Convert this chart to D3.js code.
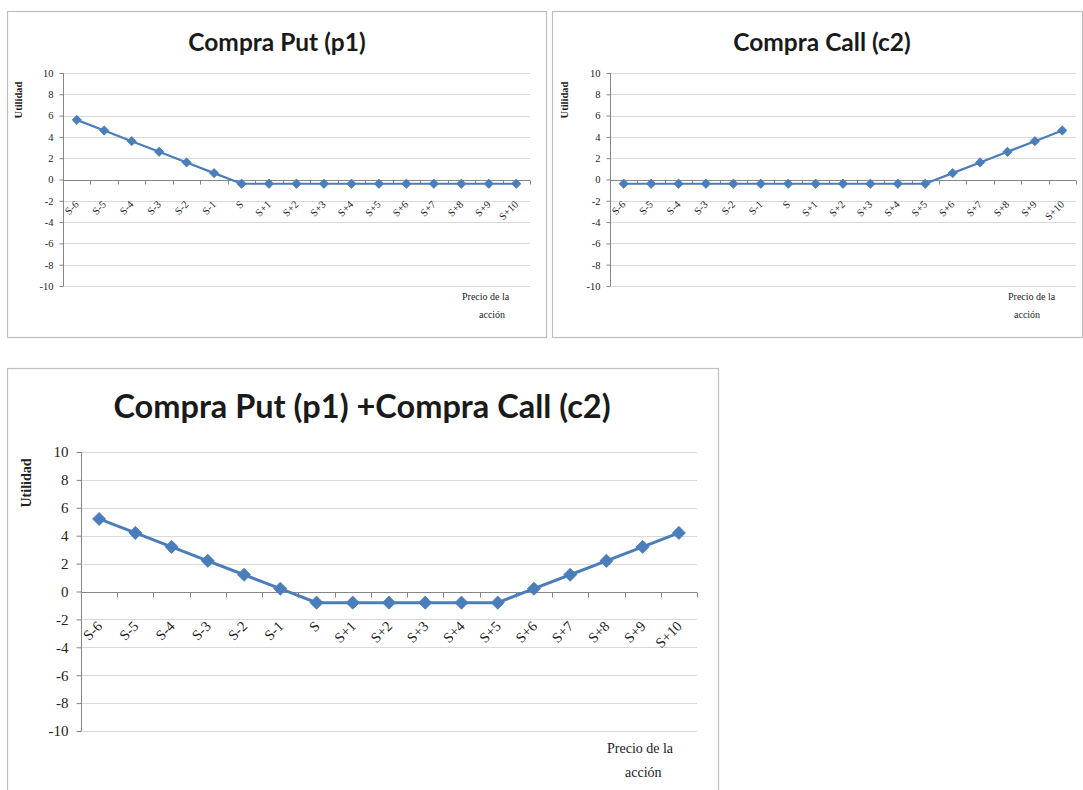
<!DOCTYPE html>
<html><head><meta charset="utf-8">
<script src="https://cdn.jsdelivr.net/npm/d3@7"></script>
<style>body{margin:0;background:#fff;}svg{display:block;}</style>
</head><body>
<svg id="chart" width="1083" height="790"></svg>
<script>
const categories = ["S-6","S-5","S-4","S-3","S-2","S-1","S","S+1","S+2","S+3","S+4","S+5","S+6","S+7","S+8","S+9","S+10"];
const putValues  = [5.6,4.6,3.6,2.6,1.6,0.6,-0.4,-0.4,-0.4,-0.4,-0.4,-0.4,-0.4,-0.4,-0.4,-0.4,-0.4];
const callValues = [-0.4,-0.4,-0.4,-0.4,-0.4,-0.4,-0.4,-0.4,-0.4,-0.4,-0.4,-0.4,0.6,1.6,2.6,3.6,4.6];
const comboValues = [5.2,4.2,3.2,2.2,1.2,0.2,-0.8,-0.8,-0.8,-0.8,-0.8,-0.8,0.2,1.2,2.2,3.2,4.2];
const yTicks = [10,8,6,4,2,0,-2,-4,-6,-8,-10];
const titles = ["Compra Put (p1)","Compra Call (c2)","Compra Put (p1) +Compra Call (c2)"];
const yTitle = "Utilidad";
const xTitle = ["Precio de la","acción"];

const svg = d3.select("#chart");
const BLUE = "#4A7EBB";

function panel(cfg, values, title) {
  const g = svg.append("g");
  g.append("rect").attr("x", cfg.box[0]+0.5).attr("y", cfg.box[1]+0.5)
    .attr("width", cfg.box[2]).attr("height", cfg.box[3])
    .attr("fill", "#fff").attr("stroke", "#bfbfbf").attr("stroke-width", 1.2);

  const x = d3.scaleBand().domain(categories).range([cfg.left, cfg.right]).padding(0);
  const y = d3.scaleLinear().domain([-10, 10]).range([cfg.bottom, cfg.top]);

  g.append("g").selectAll("line").data(yTicks).join("line")
    .attr("x1", cfg.left).attr("x2", cfg.right)
    .attr("y1", d => Math.round(y(d))+0.5).attr("y2", d => Math.round(y(d))+0.5)
    .attr("stroke", "#d9d9d9").attr("stroke-width", 1);

  const ya = d3.axisLeft(y).tickValues(yTicks).tickFormat(d => String(d)).tickSize(cfg.tick).tickPadding(cfg.ypad);
  const yg = g.append("g").attr("transform", `translate(${cfg.left+0.5},0)`).call(ya);
  yg.select(".domain").attr("stroke", "#868686").attr("d", `M-0,${cfg.top}V${cfg.bottom}`);
  yg.selectAll(".tick line").attr("stroke", "#868686");
  yg.selectAll(".tick text").attr("font-family", "Liberation Serif").attr("font-size", cfg.yfs)
    .attr("fill", "#222");

  const y0 = Math.round(y(0))+0.5;
  g.append("line").attr("x1", cfg.left).attr("x2", cfg.right).attr("y1", y0).attr("y2", y0)
    .attr("stroke", "#868686");
  const bounds = categories.map(c => x(c)).concat([x(categories[categories.length-1]) + x.bandwidth()]);
  g.append("g").selectAll("line").data(bounds.slice(1)).join("line")
    .attr("x1", d => Math.round(d)+0.5).attr("x2", d => Math.round(d)+0.5)
    .attr("y1", y0).attr("y2", y0 + cfg.tick).attr("stroke", "#868686");

  g.append("g").selectAll("text").data(categories).join("text")
    .attr("transform", c => `translate(${x(c) + x.bandwidth()/2 + cfg.lx},${y0 + cfg.ly}) rotate(-45)`)
    .attr("text-anchor", "end").attr("dy", "0.35em")
    .attr("font-family", "Liberation Serif").attr("font-size", cfg.xfs)
    .attr("fill", "#222").text(c => c);

  const line = d3.line().x((d,i) => x(categories[i]) + x.bandwidth()/2).y(d => y(d));
  g.append("path").datum(values).attr("d", line).attr("fill", "none")
    .attr("stroke", BLUE).attr("stroke-width", cfg.lw);
  const sym = d3.symbol().type(d3.symbolDiamond2).size(cfg.ms);
  g.append("g").selectAll("path").data(values).join("path")
    .attr("transform", (d,i) => `translate(${x(categories[i]) + x.bandwidth()/2},${y(d)})`)
    .attr("d", sym).attr("fill", BLUE).attr("stroke", BLUE).attr("stroke-width", 0.8);

  g.append("text").attr("x", cfg.tx).attr("y", cfg.ty).attr("text-anchor", "middle")
    .attr("font-family", "Lato").attr("font-weight", "bold").attr("font-size", cfg.tfs)
    .attr("fill", "#1a1a1a").text(title);

  g.append("text").attr("transform", `translate(${cfg.yx},${cfg.yy}) rotate(-90)`)
    .attr("text-anchor", "middle").attr("font-family", "Liberation Serif").attr("font-weight", "bold")
    .attr("font-size", cfg.ytfs).attr("fill", "#222").text(yTitle);

  g.append("text").attr("x", cfg.xx).attr("y", cfg.xy).attr("font-family", "Liberation Serif")
    .attr("font-size", cfg.xtfs).attr("fill", "#222")
    .selectAll("tspan").data(xTitle).join("tspan")
    .attr("x", (d,i) => cfg.xx + (i ? cfg.xx2 : 0)).attr("dy", (d,i) => i ? cfg.xlh : 0).text(d => d);
}

panel({box:[7,11,539,326], left:63, right:530, top:73, bottom:286, tick:4, ypad:6, yfs:10.5, xfs:10.5,
  lx:0, ly:22, lw:2.2, ms:55, tx:277, ty:51, tfs:24.5, yx:22, yy:100, ytfs:10.5, xx:462, xy:300, xx2:17, xlh:18, xtfs:10},
  putValues, titles[0]);
panel({box:[552,11,530,326], left:610, right:1076, top:73, bottom:286, tick:4, ypad:6, yfs:10.5, xfs:10.5,
  lx:0, ly:22, lw:2.2, ms:55, tx:822, ty:51, tfs:24.5, yx:568, yy:100, ytfs:10.5, xx:1008, xy:300, xx2:6, xlh:18, xtfs:10},
  callValues, titles[1]);
panel({box:[7,368,711,430], left:81, right:697, top:452, bottom:731, tick:5, ypad:8, yfs:15, xfs:14.5,
  lx:0.5, ly:31, lw:3, ms:110, tx:362, ty:418, tfs:32.5, yx:31, yy:483, ytfs:14, xx:607, xy:753, xx2:18, xlh:24, xtfs:14},
  comboValues, titles[2]);
</script>
</body></html>
